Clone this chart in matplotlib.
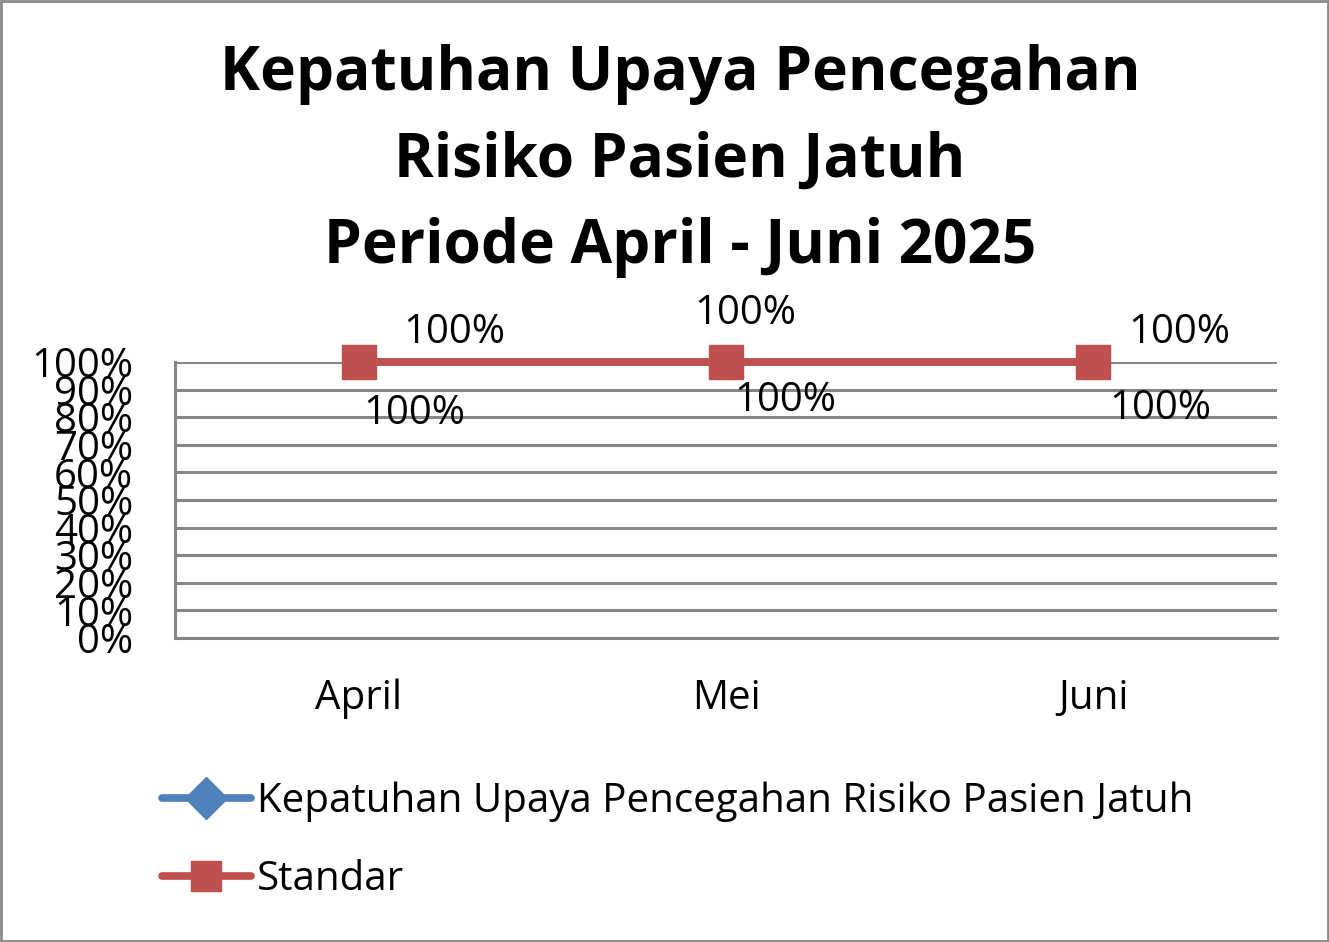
import matplotlib
matplotlib.use("Agg")
import matplotlib.pyplot as plt
from matplotlib.patches import Rectangle
from matplotlib.ticker import FuncFormatter

plt.rcParams["font.family"] = ["Open Sans", "DejaVu Sans"]

# =========================
# DATA
# =========================

months = ["April", "Mei", "Juni"]
kepatuhan = [1.00, 1.00, 1.00]
standar = [1.00, 1.00, 1.00]
series_names = [
    "Kepatuhan Upaya Pencegahan Risiko Pasien Jatuh",
    "Standar"
]
y_ticks = [0.0, 0.1, 0.2, 0.3, 0.4, 0.5, 0.6, 0.7, 0.8, 0.9, 1.0]

title = "Kepatuhan Upaya Pencegahan\nRisiko Pasien Jatuh\nPeriode April - Juni 2025"

# label offsets (points), as in the original layout
blue_offsets = [(40, -37), (43, -28), (48, -34)]
red_offsets = [(69, 21), (14, 35), (62, 21)]

blue = "#4F81BD"
red = "#C0504D"
grey = "#868686"

# =========================
# FIGURE
# =========================

fig = plt.figure(figsize=(13.29, 9.42), dpi=100)
ax = fig.add_axes([175 / 1329, 1 - 638 / 942, 1102 / 1329, 276 / 942])

x = range(len(months))

ax.plot(x, kepatuhan, color=blue, lw=5.5, marker="D", ms=16,
        solid_capstyle="round", label=series_names[0], zorder=3,
        clip_on=False)
ax.plot(x, standar, color=red, lw=5.5, marker="s", ms=24,
        solid_capstyle="round", label=series_names[1], zorder=4,
        clip_on=False)

for i, v in enumerate(kepatuhan):
    ax.annotate(f"{v:.0%}", (i, v), xytext=blue_offsets[i],
                textcoords="offset points", ha="center", va="center",
                fontsize=29, annotation_clip=False)
for i, v in enumerate(standar):
    ax.annotate(f"{v:.0%}", (i, v), xytext=red_offsets[i],
                textcoords="offset points", ha="center", va="center",
                fontsize=29, annotation_clip=False)

ax.set_xlim(-0.5, len(months) - 0.5)
ax.set_ylim(0, 1)
ax.set_xticks(list(x))
ax.set_xticklabels(months, fontsize=29)
ax.set_yticks(y_ticks)
ax.yaxis.set_major_formatter(FuncFormatter(lambda v, p: f"{v:.0%}"))
ax.tick_params(axis="y", labelsize=29, length=0, pad=30)
ax.tick_params(axis="x", length=0, pad=29)

ax.grid(axis="y", color=grey, lw=2.2)
ax.set_axisbelow(True)
for side in ["top", "right"]:
    ax.spines[side].set_visible(False)
for side in ["left", "bottom"]:
    ax.spines[side].set_color(grey)
    ax.spines[side].set_linewidth(2.2)

fig.text(680 / 1329, 1 - 161 / 942, title, ha="center", va="center",
         fontsize=43.5, fontweight="bold", linespacing=1.56)

leg = fig.legend(loc="upper left", bbox_to_anchor=(146 / 1329, 1 - 765 / 942),
                 frameon=False, fontsize=29, handlelength=2.2,
                 handletextpad=0.15, labelspacing=0.95, borderaxespad=0)
leg.legend_handles[0].set_markersize(21)
leg.legend_handles[1].set_markersize(21)

fig.add_artist(Rectangle((0.001, 0.001), 0.998, 0.998, transform=fig.transFigure,
                         fill=False, edgecolor="#898989", lw=2))

fig.savefig("out.png", dpi=100)
